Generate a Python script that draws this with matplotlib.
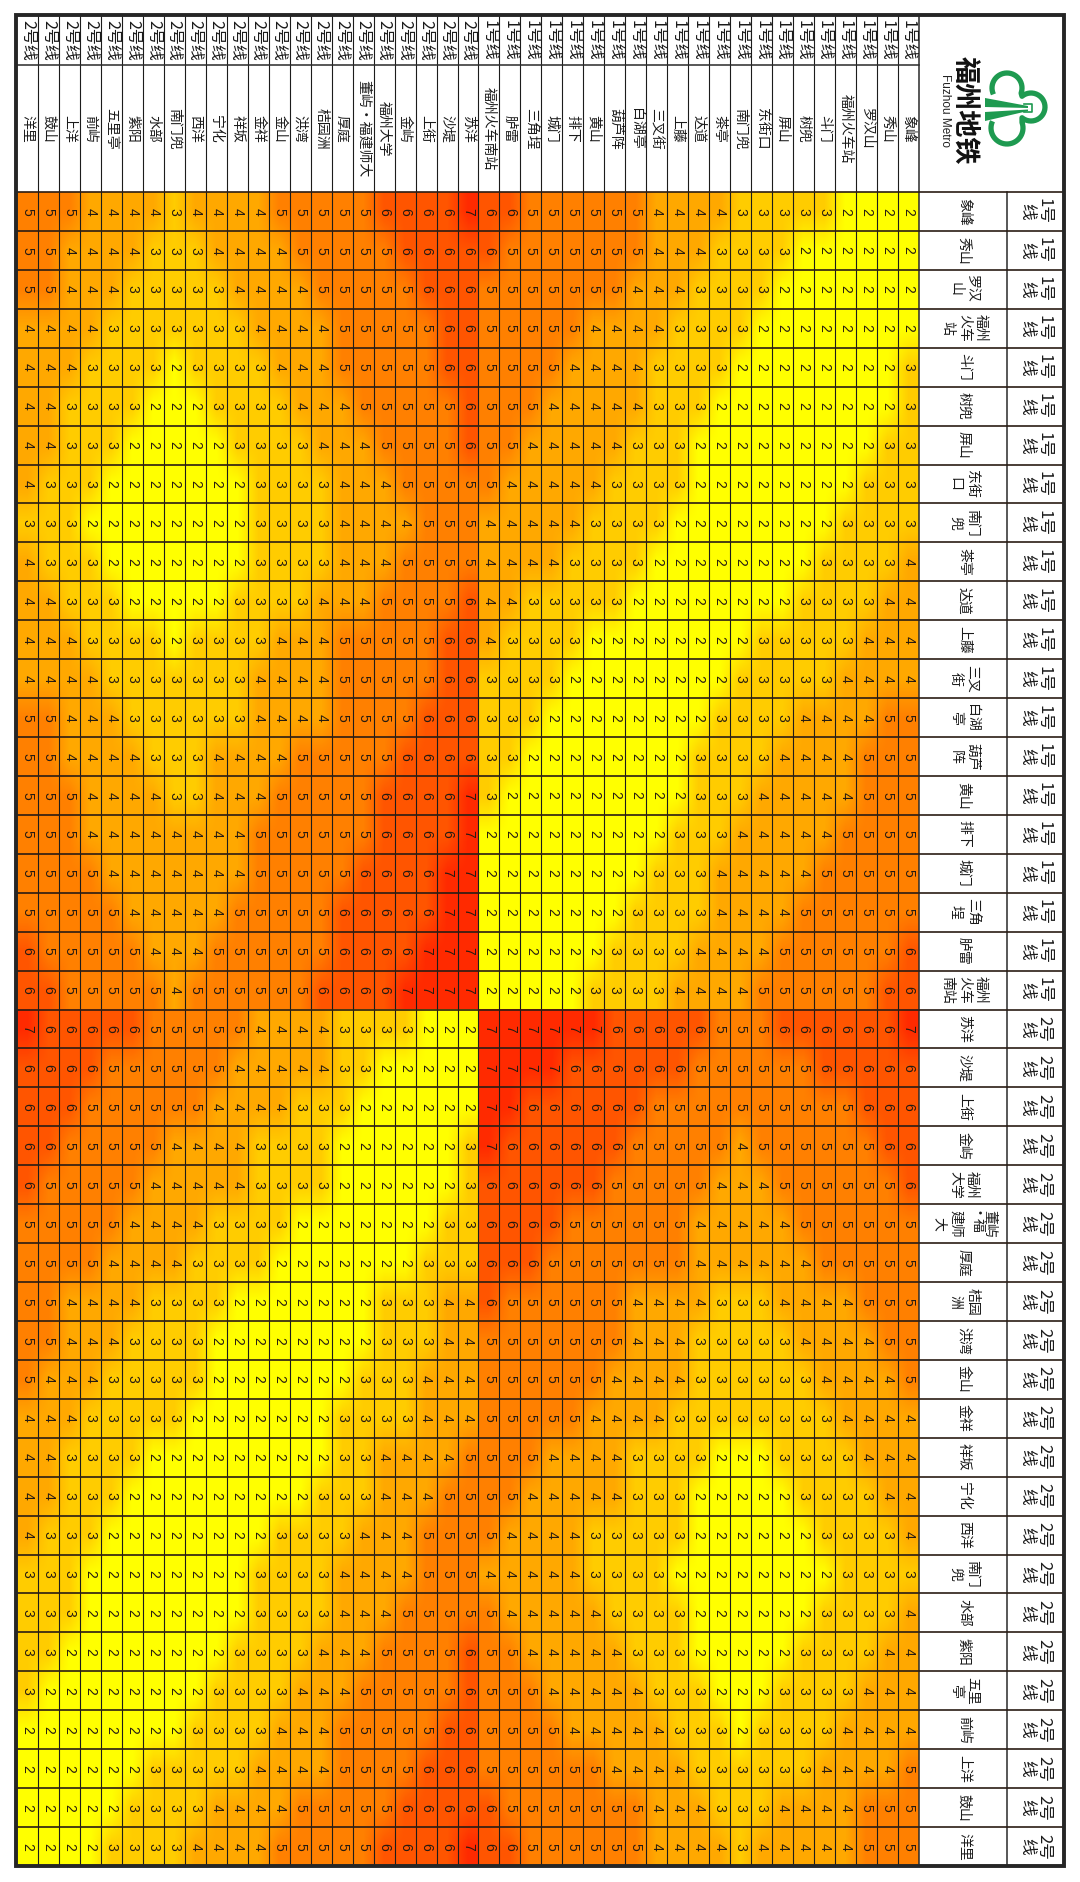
import numpy as np
import matplotlib
matplotlib.use("Agg")
import matplotlib.pyplot as plt
from matplotlib.colors import LinearSegmentedColormap
from matplotlib.patches import Polygon, Rectangle

plt.rcParams['font.family'] = ['Noto Sans CJK SC', 'DejaVu Sans']

line1_stations = ["象峰", "秀山", "罗汉山", "福州火车站", "斗门", "树兜", "屏山", "东街口", "南门兜", "茶亭", "达道",
                  "上藤", "三叉街", "白湖亭", "葫芦阵", "黄山", "排下", "城门", "三角埕", "胪雷", "福州火车南站"]
line2_stations = ["苏洋", "沙堤", "上街", "金屿", "福州大学", "董屿·福建师大", "厚庭", "桔园洲", "洪湾", "金山", "金祥",
                  "祥坂", "宁化", "西洋", "南门兜", "水部", "紫阳", "五里亭", "前屿", "上洋", "鼓山", "洋里"]
# how the row headers on the right wrap
wrapped = {"罗汉山": "罗汉\n山", "福州火车站": "福州\n火车\n站", "东街口": "东街\n口", "南门兜": "南门\n兜",
           "三叉街": "三叉\n街", "白湖亭": "白湖\n亭", "葫芦阵": "葫芦\n阵", "三角埕": "三角\n埕",
           "福州火车南站": "福州\n火车\n南站", "福州大学": "福州\n大学", "董屿·福建师大": "董屿\n·福\n建师\n大",
           "桔园洲": "桔园\n洲", "五里亭": "五里\n亭"}

# fares, one list per band, left to right as drawn (洋里 ... 象峰)
fares = [
    [5,5,5,4,4,4,4,3,4,4,4,4,5,5,5,5,5,6,6,6,6,7, 6,6,5,5,5,5,5,5,4,4,4,4,3,3,3,3,3,2,2,2,2],
    [5,5,4,4,4,4,3,3,3,4,4,4,4,5,5,5,5,5,6,6,6,6, 6,5,5,5,5,5,5,5,4,4,4,3,3,3,3,2,2,2,2,2,2],
    [5,5,4,4,4,3,3,3,3,3,4,4,4,4,5,5,5,5,5,6,6,6, 5,5,5,5,5,5,5,4,4,4,3,3,3,3,2,2,2,2,2,2,2],
    [4,4,4,4,3,3,3,3,3,3,3,4,4,4,4,5,5,5,5,5,6,6, 5,5,5,5,5,4,4,4,4,3,3,3,3,2,2,2,2,2,2,2,2],
    [4,4,4,3,3,3,3,2,3,3,3,3,4,4,4,5,5,5,5,5,6,6, 5,5,5,5,4,4,4,4,3,3,3,3,2,2,2,2,2,2,2,2,3],
    [4,4,3,3,3,3,2,2,2,3,3,3,3,4,4,4,5,5,5,5,5,6, 5,5,5,4,4,4,4,4,3,3,3,2,2,2,2,2,2,2,2,2,3],
    [4,4,3,3,3,2,2,2,2,2,3,3,3,3,4,4,4,5,5,5,5,6, 5,5,4,4,4,4,4,3,3,3,2,2,2,2,2,2,2,2,2,3,3],
    [4,3,3,3,2,2,2,2,2,2,2,3,3,3,3,4,4,4,5,5,5,5, 5,4,4,4,4,4,3,3,3,3,2,2,2,2,2,2,2,2,3,3,3],
    [3,3,3,2,2,2,2,2,2,2,2,3,3,3,3,4,4,4,4,5,5,5, 4,4,4,4,4,3,3,3,3,2,2,2,2,2,2,2,2,3,3,3,3],
    [4,3,3,3,2,2,2,2,2,2,2,3,3,3,3,4,4,4,5,5,5,5, 4,4,4,4,3,3,3,3,2,2,2,2,2,2,2,2,3,3,3,3,4],
    [4,4,3,3,3,2,2,2,2,2,3,3,3,3,4,4,4,5,5,5,5,6, 4,4,3,3,3,3,3,2,2,2,2,2,2,2,2,3,3,3,3,4,4],
    [4,4,4,3,3,3,3,2,3,3,3,3,4,4,4,5,5,5,5,5,6,6, 4,3,3,3,3,2,2,2,2,2,2,2,2,3,3,3,3,3,4,4,4],
    [4,4,4,4,3,3,3,3,3,3,3,4,4,4,4,5,5,5,5,5,6,6, 3,3,3,3,2,2,2,2,2,2,2,2,3,3,3,3,3,4,4,4,4],
    [5,5,4,4,4,3,3,3,3,3,3,4,4,4,4,5,5,5,5,6,6,6, 3,3,3,2,2,2,2,2,2,2,2,3,3,3,3,4,4,4,4,5,5],
    [5,5,4,4,4,4,3,3,3,4,4,4,4,5,5,5,5,5,6,6,6,6, 3,3,2,2,2,2,2,2,2,2,3,3,3,3,4,4,4,4,5,5,5],
    [5,5,5,4,4,4,4,3,3,4,4,4,5,5,5,5,5,6,6,6,6,7, 3,2,2,2,2,2,2,2,2,2,3,3,3,4,4,4,4,4,5,5,5],
    [5,5,5,4,4,4,4,4,4,4,4,5,5,5,5,5,5,6,6,6,6,7, 2,2,2,2,2,2,2,2,2,3,3,3,4,4,4,4,4,5,5,5,5],
    [5,5,5,5,4,4,4,4,4,4,4,5,5,5,5,5,6,6,6,6,7,7, 2,2,2,2,2,2,2,2,3,3,3,4,4,4,4,4,5,5,5,5,5],
    [5,5,5,5,5,4,4,4,4,4,5,5,5,5,5,6,6,6,6,6,7,7, 2,2,2,2,2,2,2,3,3,3,3,4,4,4,4,5,5,5,5,5,5],
    [6,5,5,5,5,5,4,4,4,5,5,5,5,5,5,6,6,6,6,7,7,7, 2,2,2,2,2,2,3,3,3,3,4,4,4,4,5,5,5,5,5,5,6],
    [6,6,5,5,5,5,5,4,5,5,5,5,5,5,6,6,6,6,7,7,7,7, 2,2,2,2,2,3,3,3,3,4,4,4,4,5,5,5,5,5,5,6,6],
    [7,6,6,6,6,6,5,5,5,5,5,4,4,4,4,3,3,3,3,2,2,2, 7,7,7,7,7,7,6,6,6,6,6,5,5,5,6,6,6,6,6,6,7],
    [6,6,6,6,5,5,5,5,5,5,4,4,4,4,4,3,3,2,2,2,2,2, 7,7,7,7,6,6,6,6,6,6,5,5,5,5,5,5,6,6,6,6,6],
    [6,6,6,5,5,5,5,5,5,4,4,4,4,3,3,3,2,2,2,2,2,2, 7,7,6,6,6,6,6,6,5,5,5,5,5,5,5,5,5,5,6,6,6],
    [6,6,5,5,5,5,5,4,4,4,4,3,3,3,3,2,2,2,2,2,2,3, 7,6,6,6,6,6,6,5,5,5,5,5,4,5,5,5,5,5,5,6,6],
    [6,5,5,5,5,5,4,4,4,4,4,3,3,3,3,2,2,2,2,2,2,3, 6,6,6,6,6,6,5,5,5,5,5,4,4,4,5,5,5,5,5,5,6],
    [5,5,5,5,5,4,4,4,4,3,3,3,3,2,2,2,2,2,2,2,3,3, 6,6,6,6,5,5,5,5,5,5,4,4,4,4,4,5,5,5,5,5,5],
    [5,5,5,5,4,4,4,4,3,3,3,3,2,2,2,2,2,2,2,3,3,3, 6,6,6,5,5,5,5,5,5,5,4,4,4,4,4,4,5,5,5,5,5],
    [5,5,4,4,4,4,3,3,3,3,2,2,2,2,2,2,2,3,3,3,4,4, 6,5,5,5,5,5,5,4,4,4,4,3,3,3,4,4,4,4,5,5,5],
    [5,5,4,4,4,3,3,3,3,2,2,2,2,2,2,2,2,3,3,3,4,4, 5,5,5,5,5,5,5,4,4,4,3,3,3,3,3,4,4,4,4,5,5],
    [5,4,4,4,3,3,3,3,3,2,2,2,2,2,2,2,3,3,3,4,4,4, 5,5,5,5,5,5,4,4,4,4,3,3,3,3,3,3,4,4,4,4,5],
    [4,4,4,3,3,3,3,3,2,2,2,2,2,2,2,3,3,3,3,4,4,4, 5,5,5,5,5,4,4,4,4,3,3,3,3,3,3,3,3,4,4,4,4],
    [4,4,3,3,3,3,2,2,2,2,2,2,2,2,2,3,3,4,4,4,4,5, 5,5,5,4,4,4,4,3,3,3,3,2,2,2,3,3,3,3,4,4,4],
    [4,4,3,3,3,2,2,2,2,2,2,2,2,2,3,3,3,4,4,4,5,5, 5,5,4,4,4,4,4,3,3,3,2,2,2,2,2,3,3,3,3,4,4],
    [4,3,3,3,2,2,2,2,2,2,2,2,3,3,3,3,4,4,4,5,5,5, 5,4,4,4,4,3,3,3,3,3,2,2,2,2,2,2,3,3,3,3,4],
    [3,3,3,2,2,2,2,2,2,2,2,3,3,3,3,4,4,4,4,5,5,5, 4,4,4,4,4,3,3,3,3,2,2,2,2,2,2,2,2,3,3,3,3],
    [3,3,3,2,2,2,2,2,2,2,2,3,3,3,3,4,4,4,5,5,5,5, 5,4,4,4,4,4,3,3,3,3,2,2,2,2,2,2,3,3,3,3,4],
    [3,3,2,2,2,2,2,2,2,2,3,3,3,3,4,4,4,5,5,5,5,6, 5,5,4,4,4,4,4,3,3,3,2,2,2,2,2,3,3,3,3,4,4],
    [3,2,2,2,2,2,2,2,2,3,3,3,3,4,4,4,5,5,5,5,5,6, 5,5,5,4,4,4,4,4,3,3,3,2,2,2,3,3,3,3,4,4,4],
    [2,2,2,2,2,2,2,2,3,3,3,3,4,4,4,5,5,5,5,5,6,6, 5,5,5,5,4,4,4,4,4,3,3,3,2,3,3,3,3,4,4,4,4],
    [2,2,2,2,2,2,3,3,3,3,3,4,4,4,4,5,5,5,5,6,6,6, 5,5,5,5,5,5,4,4,4,4,3,3,3,3,3,3,4,4,4,4,5],
    [2,2,2,2,2,3,3,3,3,4,4,4,4,5,5,5,5,5,6,6,6,6, 6,5,5,5,5,5,5,5,4,4,4,3,3,3,4,4,4,4,5,5,5],
    [2,2,2,2,3,3,3,3,4,4,4,4,5,5,5,5,5,6,6,6,6,7, 6,6,5,5,5,5,5,5,4,4,4,4,3,4,4,4,4,4,5,5,5],
]

fare_levels = [2, 3, 4, 5, 6, 7]
fare_colors = ["#FFFF00", "#FFCC00", "#FFA800", "#FF8000", "#FF5500", "#FF2A00"]

# table geometry in pixels
LEFT, RIGHT, TOP, BOTTOM = 17, 1064, 15, 1866
HEAD_LINE, HEAD_BOTTOM = 65, 192
GRID_RIGHT, NAME_RIGHT = 919, 1007

stations = [("1号线", s) for s in line1_stations] + [("2号线", s) for s in line2_stations]
n = len(stations)
values = np.array(fares)
col_w = (GRID_RIGHT - LEFT) / n
row_h = (BOTTOM - HEAD_BOTTOM) / n
xs = LEFT + col_w * np.arange(n + 1)
ys = HEAD_BOTTOM + row_h * np.arange(n + 1)
n1, n2 = len(line1_stations), len(line2_stations)

fig = plt.figure(figsize=(10.8, 18.82), dpi=100, facecolor="white")
ax = fig.add_axes([0, 0, 1, 1])

cmap = LinearSegmentedColormap.from_list(
    "fare", [((v - 2) / 5, c) for v, c in zip(fare_levels, fare_colors)])

# the shading blends inside each line-to-line block, with hard edges between blocks
for r0, r1 in [(0, n1), (n1, n)]:
    for k0, k1 in [(0, n2), (n2, n)]:
        ax.imshow(values[r0:r1, k0:k1], cmap=cmap, vmin=2, vmax=7, interpolation="bilinear",
                  extent=(xs[k0], xs[k1], ys[r1], ys[r0]), aspect="auto", zorder=1)

ax.set_xlim(0, 1080)
ax.set_ylim(1882, 0)
ax.axis("off")

# grid
for x in xs[1:-1]:
    ax.plot([x, x], [TOP, BOTTOM], color="#1c1c1c", lw=0.8, zorder=2)
ax.plot([GRID_RIGHT, GRID_RIGHT], [TOP, BOTTOM], color="#2a2a2a", lw=1.1, zorder=2)
ax.plot([NAME_RIGHT, NAME_RIGHT], [HEAD_BOTTOM, BOTTOM], color="#2a2a2a", lw=1.1, zorder=2)
ax.plot([LEFT, GRID_RIGHT], [HEAD_LINE, HEAD_LINE], color="#2a2a2a", lw=1.1, zorder=2)
for y in ys[:-1]:
    ax.plot([LEFT, RIGHT], [y, y], color="#2a1c14", lw=1.2, zorder=2)

# outer frame
ax.add_patch(Rectangle((LEFT - 1, TOP), RIGHT - LEFT + 1, BOTTOM - TOP, fill=False,
                       ec="#262626", lw=2.8, zorder=4))

digit_font = ["Liberation Sans", "DejaVu Sans"]
for r in range(n):
    for k in range(n):
        ax.text((xs[k] + xs[k + 1]) / 2, (ys[r] + ys[r + 1]) / 2, str(fares[r][k]), rotation=270,
                ha="center", va="center", fontsize=10, family=digit_font, color="#241a12", zorder=3)

# column headers, 洋里 at the left
for k, (line, name) in enumerate(reversed(stations)):
    cx = (xs[k] + xs[k + 1]) / 2
    ax.text(cx, 40, line, rotation=270, ha="center", va="center", fontsize=11.5, color="#1a1a1a", zorder=3)
    ax.text(cx, 129, name, rotation=270, ha="center", va="center", fontsize=10, color="#1a1a1a", zorder=3)

# row headers
for r, (line, name) in enumerate(stations):
    cy = (ys[r] + ys[r + 1]) / 2
    ax.text((GRID_RIGHT + NAME_RIGHT) / 2 + 1, cy, wrapped.get(name, name), rotation=270, ha="center", va="center",
            multialignment="center", fontsize=10, linespacing=1.25, color="#1a1a1a", zorder=3)
    ax.text((NAME_RIGHT + RIGHT) / 2, cy, line.replace("号", "号\n"), rotation=270, ha="center", va="center",
            multialignment="center", fontsize=12, linespacing=1.05, color="#1a1a1a", zorder=3)

# logo
green = "#1E9A50"
lobes = [((1007, 88), 15, 155, 380), ((1031, 107), 14, 230, 490), ((1007, 128), 16, -20, 205)]
px, py = [], []
for (cx, cy), rad, a0, a1 in lobes:
    t = np.radians(np.linspace(a0, a1, 60))
    px.extend(cx + rad * np.cos(t))
    py.extend(cy + rad * np.sin(t))
ax.plot(px, py, color=green, lw=3.8, solid_capstyle="butt", solid_joinstyle="round", zorder=3)
ax.add_patch(Polygon([(985, 98), (1028, 106), (1028, 108), (985, 107)], fc=green, ec="none", zorder=3))
ax.add_patch(Polygon([(985, 112), (1028, 109.5), (1028, 111), (985, 121)], fc=green, ec="none", zorder=3))
ax.plot([1024, 1032, 1032, 1024], [104, 104, 112, 112], color=green, lw=1.2, zorder=3)
ax.text(965, 110, "福州地铁", rotation=270, ha="center", va="center", fontsize=19.5, fontweight="bold",
        color="#111111", zorder=3)
ax.text(944.5, 110, "Fuzhou Metro", rotation=270, ha="center", va="center", fontsize=8.5,
        family=["Liberation Sans", "DejaVu Sans"], color="#222222", zorder=3)

fig.savefig("out.png", dpi=100, facecolor="white")
